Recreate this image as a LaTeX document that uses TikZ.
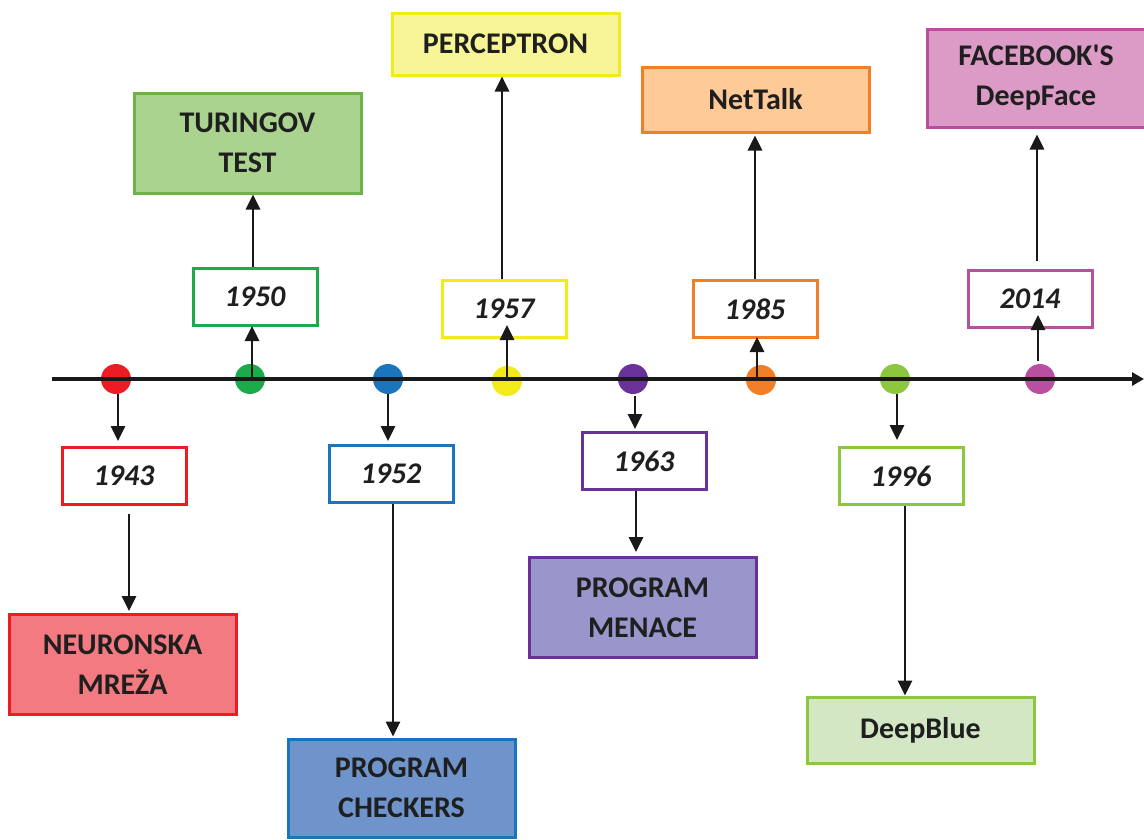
\documentclass[tikz,border=0pt]{standalone}
\usepackage{fontspec}
\setmainfont{Carlito}[Ligatures=TeXOff]
\usepackage{xcolor}
\usetikzlibrary{arrows.meta}

\definecolor{redline}{HTML}{ED1C24}
\definecolor{redfill}{HTML}{F37A80}
\definecolor{greendot}{HTML}{1DAA4B}
\definecolor{greenline}{HTML}{70B24A}
\definecolor{greenfill}{HTML}{A9D38E}
\definecolor{blueline}{HTML}{1C75BC}
\definecolor{bluefill}{HTML}{6F94CB}
\definecolor{yellowline}{HTML}{F2EA1A}
\definecolor{yellowfill}{HTML}{F7F597}
\definecolor{purpleline}{HTML}{6A3199}
\definecolor{purplefill}{HTML}{9896CA}
\definecolor{orangeline}{HTML}{F07F28}
\definecolor{orangefill}{HTML}{FDCA98}
\definecolor{limeline}{HTML}{8DC63F}
\definecolor{limefill}{HTML}{D3E7C4}
\definecolor{pinkline}{HTML}{B84FA0}
\definecolor{pinkfill}{HTML}{DC9BC6}

\begin{document}
\begin{tikzpicture}[x=1pt,y=-1pt]
                \tikzstyle{every node}+=[inner sep=0pt, align=center, text=black!88, font=\fontsize{30}{40}\selectfont\bfseries]
                \tikzstyle{dot}=[circle, minimum size=30pt]
                \tikzstyle{year}=[draw, line width=3pt, fill=white, minimum width=124pt, minimum height=57pt, font=\fontsize{30}{40}\selectfont\bfseries\itshape]
                \tikzstyle{event}=[draw, line width=3pt, minimum width=227pt, minimum height=100pt]
                \tikzstyle{link}=[black!90, line width=2.8pt, -{Triangle[length=15pt,width=14pt]}]
                \useasboundingbox (0,0) rectangle (1144,839);
                \node [dot, fill=redline] (d1) at (116,379) {};
                \node [dot, fill=greendot] (d2) at (250,379) {};
                \node [dot, fill=blueline] (d3) at (388,379) {};
                \node [dot, fill=yellowline] (d4) at (507,381) {};
                \node [dot, fill=purpleline] (d5) at (633,379) {};
                \node [dot, fill=orangeline] (d6) at (761,380) {};
                \node [dot, fill=limeline] (d7) at (895,379) {};
                \node [dot, fill=pinkline] (d8) at (1040,379) {};
                \coordinate (axisstart) at (52,379);
                \coordinate (axisend) at (1144,379);
                \draw [black!90, line width=4pt, -{Triangle[length=12pt,width=13pt]}] (axisstart) -- (axisend);
                \node [year, draw=redline] (y1) at (124,476) {1943};
                \node [year, draw=greendot] (y2) at (255,297) {1950};
                \node [year, draw=blueline] (y3) at (391,474) {1952};
                \node [year, draw=yellowline] (y4) at (504,309) {1957};
                \node [year, draw=purpleline] (y5) at (644,461) {1963};
                \node [year, draw=orangeline] (y6) at (755,309) {1985};
                \node [year, draw=limeline] (y7) at (901,476) {1996};
                \node [year, draw=pinkline] (y8) at (1030,299) {2014};
                \node [event, draw=redline, fill=redfill] (e1) at (122.5,664.5) {NEURONSKA\\MREŽA};
                \node [event, draw=greenline, fill=greenfill] (e2) at (247.5,143) {TURINGOV\\TEST};
                \node [event, draw=blueline, fill=bluefill, minimum height=98pt] (e3) at (401.5,788) {PROGRAM\\CHECKERS};
                \node [event, draw=yellowline, fill=yellowfill, minimum height=62pt] (e4) at (505.5,44) {PERCEPTRON};
                \node [event, draw=purpleline, fill=purplefill] (e5) at (642.5,607.5) {PROGRAM\\MENACE};
                \node [event, draw=orangeline, fill=orangefill, minimum height=65pt] (e6) at (755.5,99.5) {NetTalk};
                \node [event, draw=limeline, fill=limefill, minimum height=66pt] (e7) at (920.5,730) {DeepBlue};
                \node [event, draw=pinkline, fill=pinkfill, minimum width=218pt, minimum height=98pt] (e8) at (1036,78) {FACEBOOK'S\\DeepFace};
                \draw [link, shorten >=5pt] ([xshift=2pt]d1.south) -- ([xshift=2pt]d1.south |- y1.north);
                \draw [link, shorten <=8pt, shorten >=2pt] ([xshift=5pt]y1.south) -- ([xshift=5pt]y1.south |- e1.north);
                \draw [link, shorten >=-1pt] ([xshift=2pt]d2.center) -- ([xshift=2pt]d2.center |- y2.south);
                \draw [link] ([xshift=-2pt]y2.north) -- ([xshift=-2pt]y2.north |- e2.south);
                \draw [link, shorten >=3pt] (d3.south) -- (d3.south |- y3.north);
                \draw [link, shorten >=1pt] ([xshift=2pt]y3.south) -- ([xshift=2pt]y3.south |- e3.north);
                \draw [link, shorten >=-14pt] (d4.center) -- (d4.center |- y4.south);
                \draw [link] ([xshift=-2pt]y4.north) -- ([xshift=-2pt]y4.north |- e4.south);
                \draw [link, shorten <=2pt, shorten >=2pt] ([xshift=2pt]d5.south) -- ([xshift=2pt]d5.south |- y5.north);
                \draw [link, shorten >=4pt] ([xshift=-8pt]y5.south) -- ([xshift=-8pt]y5.south |- e5.north);
                \draw [link, shorten >=-2pt] ([xshift=-4pt]d6.center) -- ([xshift=-4pt]d6.center |- y6.south);
                \draw [link, shorten >=2pt] (y6.north) -- (y6.north |- e6.south);
                \draw [link, shorten >=6pt] ([xshift=2pt]d7.south) -- ([xshift=2pt]d7.south |- y7.north);
                \draw [link] ([xshift=4pt]y7.south) -- ([xshift=4pt]y7.south |- e7.north);
                \draw [link, shorten <=3pt, shorten >=-14pt] ([xshift=-2pt]d8.north) -- ([xshift=-2pt]d8.north |- y8.south);
                \draw [link, shorten <=8pt, shorten >=6pt] ([xshift=7pt]y8.north) -- ([xshift=7pt]y8.north |- e8.south);
            \end{tikzpicture}
\end{document}
